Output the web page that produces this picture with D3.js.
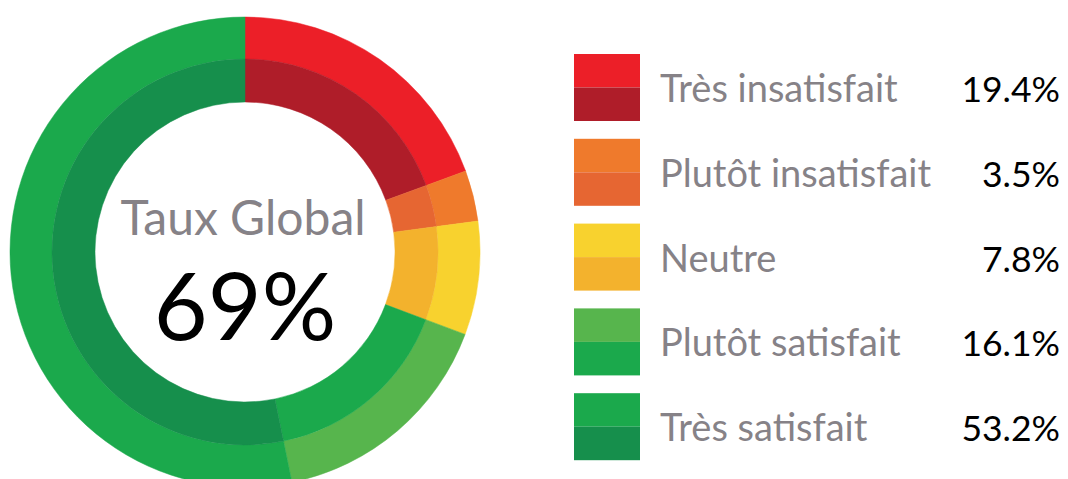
<!DOCTYPE html>
<html>
<head>
<meta charset="utf-8">
<script src="https://cdn.jsdelivr.net/npm/d3@7"></script>
<style>
  html, body { margin: 0; padding: 0; background: #fff; }
  svg { display: block; }
  text { font-family: Lato, "Open Sans", sans-serif; }
</style>
</head>
<body>
<svg id="chart" width="1068" height="479"></svg>
<script>
const categories = ["Très insatisfait", "Plutôt insatisfait", "Neutre", "Plutôt satisfait", "Très satisfait"];
const values = [19.4, 3.5, 7.8, 16.1, 53.2];
const outerColors = ["#EC1F28", "#EF7A2C", "#F8D22E", "#57B54D", "#1BA94C"];
const innerColors = ["#AF1D29", "#E66632", "#F3B22D", "#1BA94C", "#168F4C"];
const centerTitle = "Taux Global";
const centerValue = "69%";

const svg = d3.select("#chart");
const cx = 245, cy = 252;
const rHole = 150, rMid = 193, rOuter = 235;

const pie = d3.pie().sort(null).value(d => d).startAngle(0).endAngle(2 * Math.PI);
const arcs = pie(values);

const g = svg.append("g").attr("transform", `translate(${cx},${cy})`);
const arcOuter = d3.arc().innerRadius(rMid).outerRadius(rOuter);
const arcInner = d3.arc().innerRadius(rHole).outerRadius(rMid);

g.selectAll("path.outer").data(arcs).join("path")
  .attr("class", "outer")
  .attr("d", arcOuter)
  .attr("fill", (d, i) => outerColors[i])
  .attr("stroke", (d, i) => outerColors[i]).attr("stroke-width", 0.5);
g.selectAll("path.inner").data(arcs).join("path")
  .attr("class", "inner")
  .attr("d", arcInner)
  .attr("fill", (d, i) => innerColors[i])
  .attr("stroke", (d, i) => innerColors[i]).attr("stroke-width", 0.5);

g.append("text").attr("x", -2).attr("y", -17)
  .attr("text-anchor", "middle")
  .attr("font-size", 48).attr("fill", "#868287")
  .text(centerTitle);
g.append("text").attr("x", 0).attr("y", 88)
  .attr("text-anchor", "middle")
  .attr("font-size", 93).attr("font-weight", 400).attr("fill", "#000")
  .text(centerValue);

// Legend
const legendY = d3.scaleBand().domain(categories).range([54, 54 + 84.8 * 5]).paddingInner(0).paddingOuter(0);
const boxW = 66, boxH = 67;
const leg = svg.append("g");
const rows = leg.selectAll("g.row").data(categories).join("g")
  .attr("class", "row")
  .attr("transform", d => `translate(574,${legendY(d)})`);
rows.append("rect").attr("x", 0).attr("y", 0).attr("width", boxW).attr("height", boxH / 2)
  .attr("fill", (d, i) => outerColors[i]);
rows.append("rect").attr("x", 0).attr("y", boxH / 2).attr("width", boxW).attr("height", boxH / 2)
  .attr("fill", (d, i) => innerColors[i]);
rows.append("text").attr("x", 86).attr("y", boxH / 2 + 14.5)
  .attr("font-size", 38).attr("fill", "#868287")
  .text(d => d);
rows.append("text").attr("x", 1060 - 574).attr("y", boxH / 2 + 14.5)
  .attr("text-anchor", "end")
  .attr("font-size", 35.5).attr("fill", "#000")
  .text((d, i) => values[i].toFixed(1) + "%");
</script>
</body>
</html>
